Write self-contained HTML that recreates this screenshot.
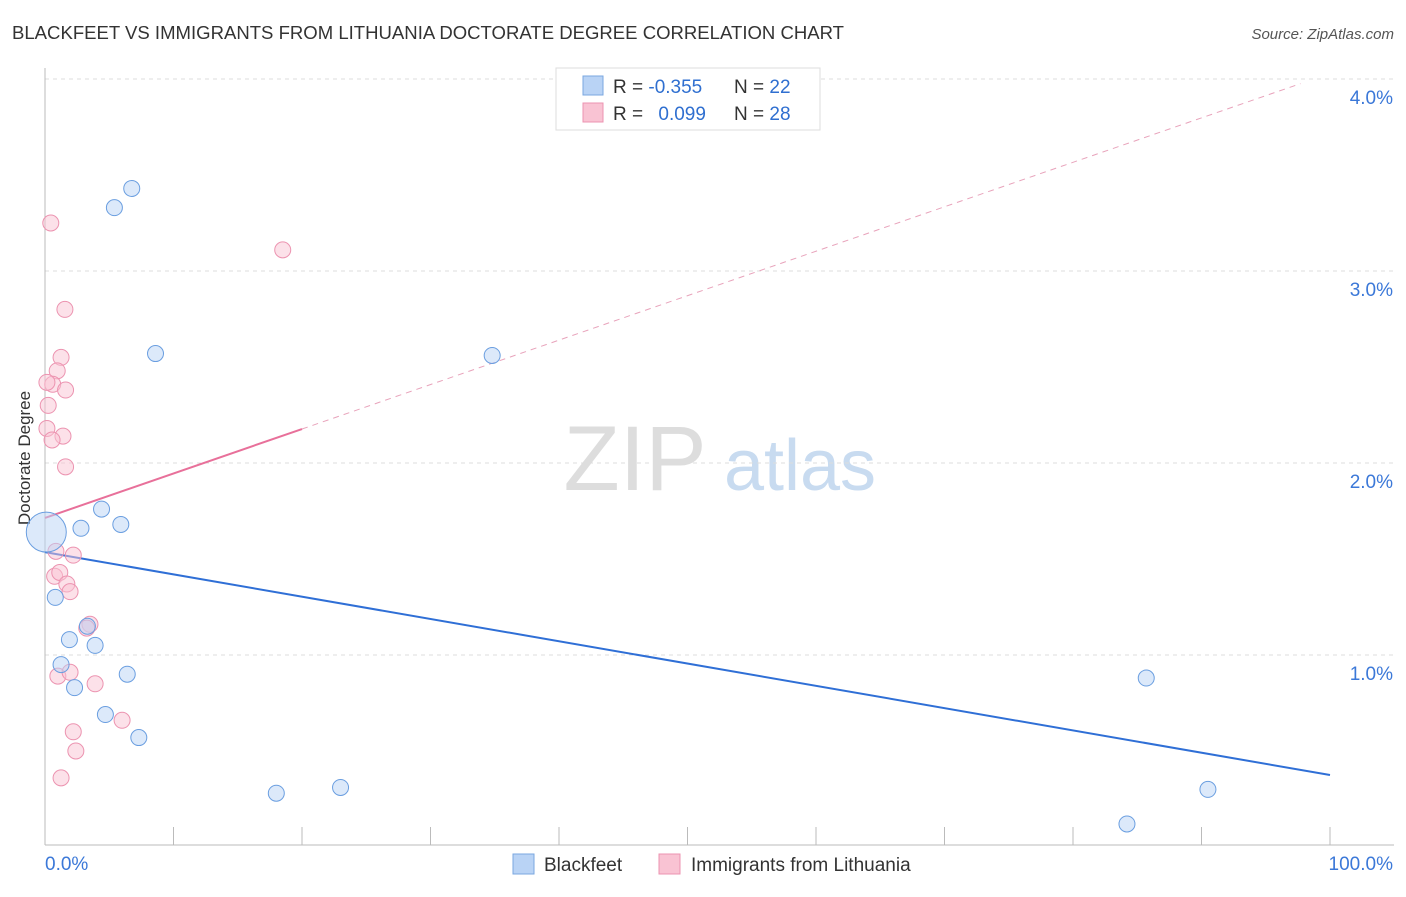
<!DOCTYPE html>
<html><head><meta charset="utf-8">
<style>
body{margin:0;background:#fff;font-family:"Liberation Sans",sans-serif;}
svg text{font-family:"Liberation Sans",sans-serif;}
</style></head>
<body>
<svg id="chart" width="1406" height="892" xmlns="http://www.w3.org/2000/svg">
<text x="12" y="39" font-size="18.5" fill="#333" textLength="832" lengthAdjust="spacingAndGlyphs">BLACKFEET VS IMMIGRANTS FROM LITHUANIA DOCTORATE DEGREE CORRELATION CHART</text>
<text x="1394" y="39" font-size="15" fill="#555" font-style="italic" text-anchor="end">Source: ZipAtlas.com</text>
<text x="30" y="458" font-size="17" fill="#333" text-anchor="middle" transform="rotate(-90 30 458)">Doctorate Degree</text>
<g>
<text x="635" y="490" font-size="92" fill="#ddd" font-family="Liberation Serif" text-anchor="middle">ZIP</text>
<text x="800" y="490" font-size="72" fill="#c8dbf0" text-anchor="middle">atlas</text>
</g>
<g id="grid"></g>
<g id="axes"></g>
<g id="marks"></g>
<g>
<rect x="556" y="68" width="264" height="62" fill="#fff" stroke="#ddd"/>
<rect x="583" y="76" width="20" height="19" fill="#b9d3f5" stroke="#7aa7e0"/>
<rect x="583" y="103" width="20" height="19" fill="#f9c3d3" stroke="#ec93b0"/>
<text x="613" y="93" font-size="19" fill="#333">R = <tspan fill="#2f6fd0">-0.355</tspan></text>
<text x="734" y="93" font-size="19" fill="#333">N = <tspan fill="#2f6fd0">22</tspan></text>
<text x="613" y="120" font-size="19" fill="#333">R = <tspan fill="#2f6fd0" dx="10">0.099</tspan></text>
<text x="734" y="120" font-size="19" fill="#333">N = <tspan fill="#2f6fd0">28</tspan></text>
</g>
<g>
<rect x="513" y="854" width="21" height="20" fill="#b9d3f5" stroke="#7aa7e0"/>
<text x="544" y="871" font-size="19" fill="#333">Blackfeet</text>
<rect x="659" y="854" width="21" height="20" fill="#f9c3d3" stroke="#ec93b0"/>
<text x="691" y="871" font-size="19" fill="#333">Immigrants from Lithuania</text>
</g>
</svg>
<script>
const yTicks=[1,2,3,4];
const yTickLabels=["1.0%","2.0%","3.0%","4.0%"];
const blueX=[6.75,5.4,8.6,34.8,4.4,5.9,2.8,0.1,0.8,1.9,3.3,3.9,1.25,6.4,2.3,4.7,7.3,18,23,85.7,90.5,84.2];
const blueY=[3.43,3.33,2.57,2.56,1.76,1.68,1.66,1.64,1.30,1.08,1.15,1.05,0.95,0.90,0.83,0.69,0.57,0.28,0.31,0.88,0.30,0.12];
const pinkX=[0.45,18.5,1.55,1.25,0.95,0.6,0.15,1.6,0.25,0.15,1.4,0.55,1.6,0.85,2.2,0.75,1.15,1.7,1.95,3.5,3.25,1.0,1.95,3.9,6,2.2,2.4,1.25];
const pinkY=[3.25,3.11,2.80,2.55,2.48,2.41,2.42,2.38,2.30,2.18,2.14,2.12,1.98,1.54,1.52,1.41,1.43,1.37,1.33,1.16,1.14,0.89,0.91,0.85,0.66,0.60,0.50,0.36];
const blueTrend=[1.536,0.375];
const pinkTrend=[1.714,2.177];
const NS="http://www.w3.org/2000/svg";
const xs=v=>45+v*12.85, ys=v=>847-v*192;
function mk(t,a,p){const e=document.createElementNS(NS,t);for(const k in a)e.setAttribute(k,a[k]);p.appendChild(e);return e;}
const grid=document.getElementById('grid'),axes=document.getElementById('axes'),marks=document.getElementById('marks');
yTicks.forEach((t,i)=>{
 const l=mk('line',{x1:45,x2:1394,y1:ys(t),y2:ys(t),stroke:'#ddd','stroke-dasharray':'4,4'},grid);
 
 
 const tx=mk('text',{x:1393,y:ys(t)+25,'font-size':19,fill:'#3b78d8','text-anchor':'end'},axes);tx.textContent=yTickLabels[i];
 
 
});
mk('line',{x1:45,x2:45,y1:68,y2:845,stroke:'#bbb'},axes);
mk('line',{x1:45,x2:1394,y1:845,y2:845,stroke:'#bbb'},axes);
for(let i=1;i<=10;i++){mk('line',{x1:xs(i*10),x2:xs(i*10),y1:827,y2:845,stroke:'#bbb'},axes);}
let t0=mk('text',{x:45,y:870,'font-size':19,fill:'#3b78d8'},axes);t0.textContent='0.0%';


let t1=mk('text',{x:1393,y:870,'font-size':19,fill:'#3b78d8','text-anchor':'end'},axes);t1.textContent='100.0%';


const bl=mk('line',{x1:xs(0),y1:ys(blueTrend[0]),x2:xs(100),y2:ys(blueTrend[1]),stroke:'#2f6fd6','stroke-width':2},marks);


const slope=(pinkTrend[1]-pinkTrend[0])/20;
const pd=mk('line',{x1:xs(20),y1:ys(pinkTrend[1]),x2:xs(97.7),y2:ys(pinkTrend[0]+slope*97.7),stroke:'#e8a3bb','stroke-width':1,'stroke-dasharray':'6,5'},marks);


const pl=mk('line',{x1:xs(0),y1:ys(pinkTrend[0]),x2:xs(20),y2:ys(pinkTrend[1]),stroke:'#e8709a','stroke-width':2},marks);


pinkX.forEach((x,i)=>{
 const c=mk('circle',{cx:xs(x),cy:ys(pinkY[i]),r:8,fill:'rgba(249,195,211,0.5)',stroke:'#ec93b0','stroke-width':1},marks);
 
 
});
blueX.forEach((x,i)=>{
 const c=mk('circle',{cx:xs(x),cy:ys(blueY[i]),r:(i==7?20:8),fill:'rgba(185,211,245,0.5)',stroke:'#6a9ee0','stroke-width':1},marks);
 
 
});
</script>
</body></html>
